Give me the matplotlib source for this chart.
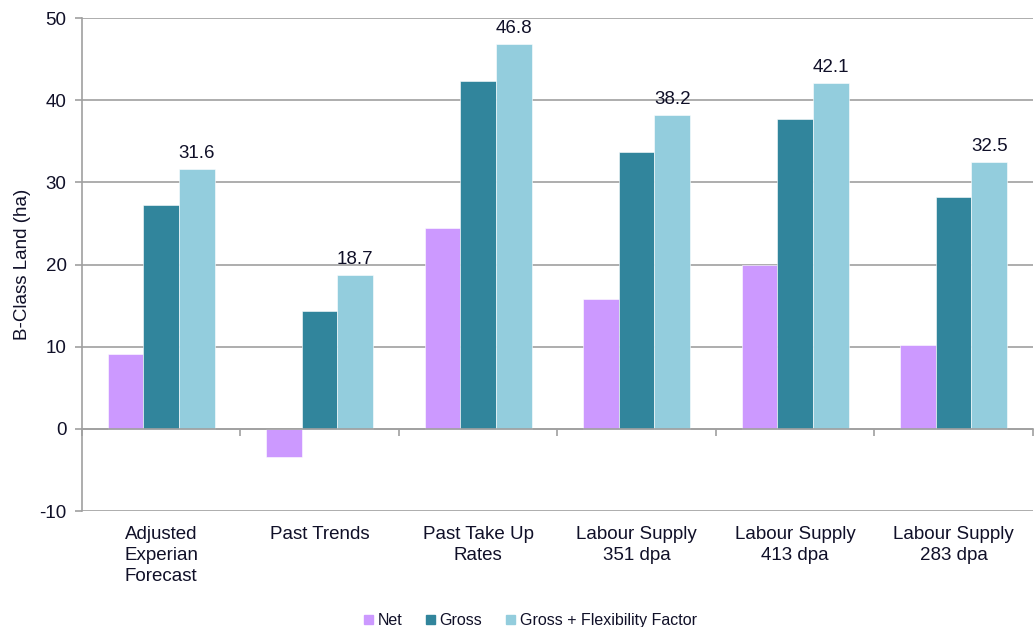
import numpy as np
from matplotlib import pyplot as plt
from matplotlib.patches import Patch
import matplotlib.transforms as mtransforms

plt.rcParams['font.family'] = ['Liberation Sans', 'DejaVu Sans']
plt.rcParams['axes.unicode_minus'] = False

categories = ['Adjusted\nExperian\nForecast', 'Past Trends', 'Past Take Up\nRates',
              'Labour Supply\n351 dpa', 'Labour Supply\n413 dpa', 'Labour Supply\n283 dpa']
net   = [9.1, -3.4, 24.5, 15.8, 19.9, 10.2]
gross = [27.2, 14.4, 42.3, 33.7, 37.7, 28.2]
flex  = [31.6, 18.7, 46.8, 38.2, 42.1, 32.5]

series_names  = ['Net', 'Gross', 'Gross + Flexibility Factor']
series_colors = ['#CC99FF', '#31859C', '#93CDDD']
text_col = '#101028'
grey = '#A0A0A0'

fig = plt.figure(figsize=(10.36, 6.27), dpi=100)
ax = fig.add_axes([0.079, 0.185, 0.918, 0.786])

x = np.arange(len(categories))
w = 0.225
for k, vals in enumerate([net, gross, flex]):
    ax.bar(x + (k - 1) * w, vals, w, color=series_colors[k],
           edgecolor='white', linewidth=0.4, zorder=3)

# labels on top of the flexibility bars
for xi, v in zip(x, flex):
    ax.text(xi + w, v + 0.9, '%.1f' % v, ha='center', va='bottom',
            fontsize=13.5, color=text_col)

ax.set_xlim(-0.5, len(categories) - 0.5)
ax.set_ylim(-10, 50)
ax.set_yticks(range(-10, 51, 10))
ax.grid(axis='y', color=grey, linewidth=1.2, zorder=0)
ax.tick_params(axis='y', labelsize=13.5, colors=grey, labelcolor=text_col,
               length=5, width=1.2, direction='out', pad=6)

# x axis sits on zero, ticks at category boundaries
ax.spines['bottom'].set_position(('data', 0))
ax.spines['bottom'].set_color(grey)
ax.spines['bottom'].set_linewidth(1.2)
ax.spines['bottom'].set_zorder(4)
ax.set_xticks(np.arange(len(categories) + 1) - 0.5)
ax.set_xticklabels([])
ax.tick_params(axis='x', colors=grey, length=5, width=1.2, direction='out')
ax.spines['left'].set_color(grey)
ax.spines['left'].set_linewidth(1.2)
ax.spines['top'].set_visible(False)
ax.spines['right'].set_visible(False)

trans = mtransforms.blended_transform_factory(ax.transData, ax.transAxes)
for xi, lab in zip(x, categories):
    ax.text(xi, -0.03, lab, transform=trans, ha='center', va='top',
            fontsize=13.5, color=text_col, linespacing=1.3)

ax.set_ylabel('B-Class Land (ha)', fontsize=13.5, color=text_col, labelpad=6)

handles = [Patch(color=c) for c in series_colors]
fig.legend(handles, series_names, loc='lower center', bbox_to_anchor=(0.512, -0.025),
           ncol=3, frameon=False, fontsize=11.5, handlelength=0.55, handleheight=0.55,
           handletextpad=0.3, columnspacing=1.5, labelcolor=text_col)

plt.savefig('out.png', dpi=100)
